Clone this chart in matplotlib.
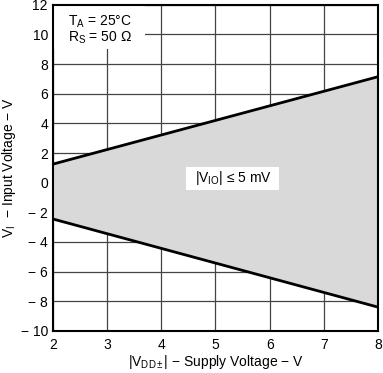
import matplotlib
matplotlib.use("Agg")
import matplotlib.pyplot as plt
from matplotlib.patches import Rectangle

supply_v = [2, 8]
upper_v = [1.25, 7.15]
lower_v = [-2.45, -8.4]
x_ticks = [2, 3, 4, 5, 6, 7, 8]
y_ticks = [-10, -8, -6, -4, -2, 0, 2, 4, 6, 8, 10, 12]
y_tick_labels = ["− 10", "− 8", "− 6", "− 4", "− 2", "0", "2", "4", "6", "8", "10", "12"]

plt.rcParams['font.family'] = ['Liberation Sans', 'DejaVu Sans']
plt.rcParams['mathtext.fontset'] = 'custom'
plt.rcParams['mathtext.rm'] = 'Liberation Sans'
plt.rcParams['mathtext.it'] = 'Liberation Sans'

fig = plt.figure(figsize=(3.83, 3.73), dpi=100)
ax = fig.add_axes([0.138, 0.113, 0.849, 0.874])

ax.fill_between(supply_v, lower_v, upper_v, color='#d9d9d9', zorder=2, linewidth=0)
ax.plot(supply_v, upper_v, color='black', lw=2, zorder=3, solid_capstyle='butt')
ax.plot(supply_v, lower_v, color='black', lw=2, zorder=3, solid_capstyle='butt')

ax.set_xlim(2, 8)
ax.set_ylim(-10, 12)
ax.set_xticks(x_ticks)
ax.set_yticks(y_ticks)
ax.set_yticklabels(y_tick_labels)
ax.grid(True, color='#444444', lw=0.9, zorder=1)
ax.set_axisbelow(True)
ax.tick_params(axis='y', length=0, labelsize=10, pad=3.5)
ax.tick_params(axis='x', length=0, labelsize=10, pad=5)
for s in ax.spines.values():
    s.set_linewidth(1.5)
    s.set_zorder(4)

ax.set_xlabel(r"|V$_{\mathrm{DD\pm}}$| − Supply Voltage − V", fontsize=10, labelpad=1)
ax.set_ylabel(r"V$_{\mathrm{I}}$  − Input Voltage − V", fontsize=10, labelpad=2)

# white backgrounds behind annotations
ax.add_patch(Rectangle((2, 9.0), 1.7, 3.0, facecolor='white', edgecolor='none', zorder=1.5))
ax.add_patch(Rectangle((4.45, -0.5), 1.72, 1.55, facecolor='white', edgecolor='none', zorder=2.5))

ax.text(2.28, 10.85, r"T$_{\mathrm{A}}$ = 25°C", fontsize=10, va='center', ha='left', zorder=5)
ax.text(2.28, 9.75, r"R$_{\mathrm{S}}$ = 50 Ω", fontsize=10, va='center', ha='left', zorder=5)
ax.text(5.33, 0.3, r"|V$_{\mathrm{IO}}$| ≤ 5 mV", fontsize=10, va='center', ha='center', zorder=5)

fig.savefig("out.png", dpi=100)
